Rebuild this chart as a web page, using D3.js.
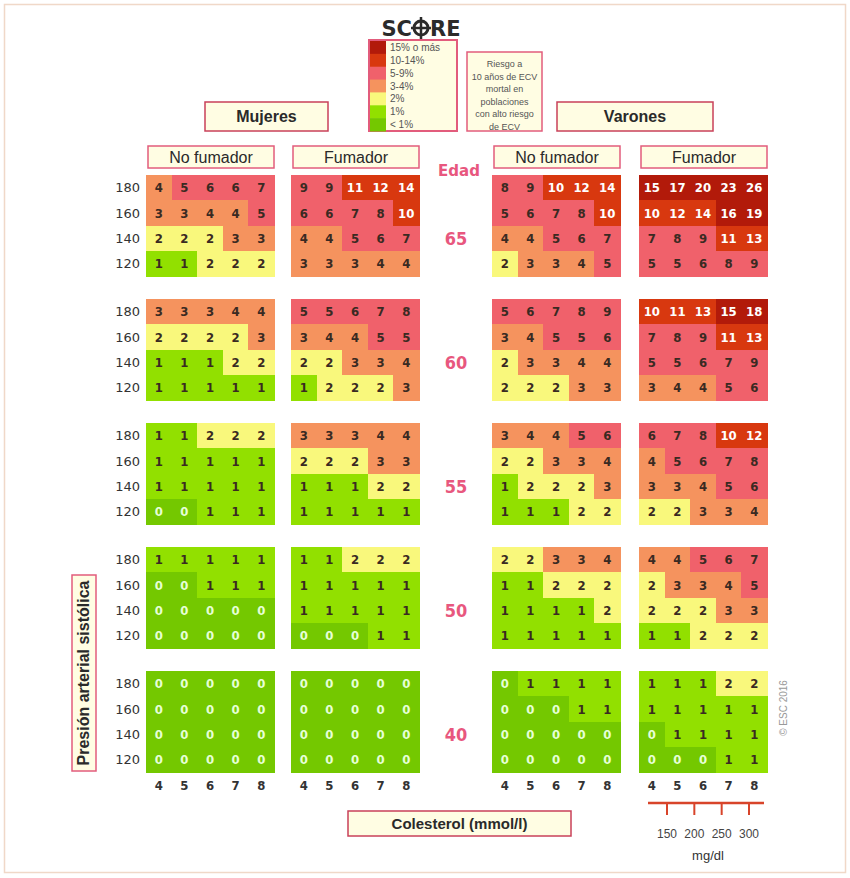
<!DOCTYPE html>
<html>
<head>
<meta charset="utf-8">
<script src="https://cdn.jsdelivr.net/npm/d3@7"></script>
<style>
  body { margin: 0; background: #fff; }
  svg { display: block; }
  .narrow { font-family: "Liberation Sans Narrow", "Liberation Sans", Arial, sans-serif; }
  .num { font-family: "DejaVu Sans Condensed", "DejaVu Sans", sans-serif; font-weight: bold; }
</style>
</head>
<body>
<div id="chart"></div>
<script>
// ---- data ----
const ages = [65, 60, 55, 50, 40];
const sbp = [180, 160, 140, 120];
const cholesterol = [4, 5, 6, 7, 8];
const mgdl = [150, 200, 250, 300];
const groups = ["mujeresNo", "mujeresSi", "varonesNo", "varonesSi"];
const groupLabels = ["No fumador", "Fumador", "No fumador", "Fumador"];
const legendLabels = ["15% o más", "10-14%", "5-9%", "3-4%", "2%", "1%", "< 1%"];
const noteLines = ["Riesgo a", "10 años de ECV", "mortal en", "poblaciones", "con alto riesgo", "de ECV"];

// risk values, rows = SBP 180,160,140,120, cols = cholesterol 4..8
const mujeresNo = {
  65: [[4,5,6,6,7],[3,3,4,4,5],[2,2,2,3,3],[1,1,2,2,2]],
  60: [[3,3,3,4,4],[2,2,2,2,3],[1,1,1,2,2],[1,1,1,1,1]],
  55: [[1,1,2,2,2],[1,1,1,1,1],[1,1,1,1,1],[0,0,1,1,1]],
  50: [[1,1,1,1,1],[0,0,1,1,1],[0,0,0,0,0],[0,0,0,0,0]],
  40: [[0,0,0,0,0],[0,0,0,0,0],[0,0,0,0,0],[0,0,0,0,0]]
};
const mujeresSi = {
  65: [[9,9,11,12,14],[6,6,7,8,10],[4,4,5,6,7],[3,3,3,4,4]],
  60: [[5,5,6,7,8],[3,4,4,5,5],[2,2,3,3,4],[1,2,2,2,3]],
  55: [[3,3,3,4,4],[2,2,2,3,3],[1,1,1,2,2],[1,1,1,1,1]],
  50: [[1,1,2,2,2],[1,1,1,1,1],[1,1,1,1,1],[0,0,0,1,1]],
  40: [[0,0,0,0,0],[0,0,0,0,0],[0,0,0,0,0],[0,0,0,0,0]]
};
const varonesNo = {
  65: [[8,9,10,12,14],[5,6,7,8,10],[4,4,5,6,7],[2,3,3,4,5]],
  60: [[5,6,7,8,9],[3,4,5,5,6],[2,3,3,4,4],[2,2,2,3,3]],
  55: [[3,4,4,5,6],[2,2,3,3,4],[1,2,2,2,3],[1,1,1,2,2]],
  50: [[2,2,3,3,4],[1,1,2,2,2],[1,1,1,1,2],[1,1,1,1,1]],
  40: [[0,1,1,1,1],[0,0,0,1,1],[0,0,0,0,0],[0,0,0,0,0]]
};
const varonesSi = {
  65: [[15,17,20,23,26],[10,12,14,16,19],[7,8,9,11,13],[5,5,6,8,9]],
  60: [[10,11,13,15,18],[7,8,9,11,13],[5,5,6,7,9],[3,4,4,5,6]],
  55: [[6,7,8,10,12],[4,5,6,7,8],[3,3,4,5,6],[2,2,3,3,4]],
  50: [[4,4,5,6,7],[2,3,3,4,5],[2,2,2,3,3],[1,1,2,2,2]],
  40: [[1,1,1,2,2],[1,1,1,1,1],[0,1,1,1,1],[0,0,0,1,1]]
};
const tables = {mujeresNo, mujeresSi, varonesNo, varonesSi};

// ---- layout ----
const W = 850, H = 878;
const gridW = 128;
const groupX = {mujeresNo: 146, mujeresSi: 291, varonesNo: 492, varonesSi: 639};
const pink = "#e8577e";
const boxFill = "#fffde3";
const boxStroke = "#e25c7c";

const color = d3.scaleThreshold()
  .domain([1, 2, 3, 5, 10, 15])
  .range(["#74c800", "#92e000", "#f9f87c", "#f5935e", "#f0616b", "#d8380f", "#b21a0a"]);

const svg = d3.select("#chart").append("svg")
  .attr("width", W).attr("height", H);

// outer frame
svg.append("rect")
  .attr("x", 4.5).attr("y", 4.5).attr("width", W - 9).attr("height", H - 10)
  .attr("fill", "none").attr("stroke", "#f0d8c8").attr("stroke-width", 1.5);

// scales
const yAge = d3.scaleBand().domain(ages).range([175, 772.5]).paddingInner(0.1815);
const yRow = d3.scaleBand().domain(sbp).range([0, yAge.bandwidth()]);
const xCol = d3.scaleBand().domain(cholesterol).range([0, gridW]);

// ---- grids ----
groups.forEach(g => {
  ages.forEach(age => {
    const block = svg.append("g")
      .attr("transform", `translate(${groupX[g]}, ${yAge(age)})`);
    const cells = [];
    tables[g][age].forEach((row, i) => row.forEach((v, j) => cells.push({s: sbp[i], c: cholesterol[j], v})));

    block.selectAll("rect").data(cells).enter().append("rect")
      .attr("x", d => xCol(d.c))
      .attr("y", d => yRow(d.s))
      .attr("width", xCol.bandwidth() + 0.6)
      .attr("height", yRow.bandwidth() + 0.6)
      .attr("fill", d => color(d.v))
      .attr("shape-rendering", "crispEdges");

    block.selectAll("text").data(cells).enter().append("text")
      .attr("class", "num")
      .attr("x", d => xCol(d.c) + xCol.bandwidth() / 2)
      .attr("y", d => yRow(d.s) + yRow.bandwidth() / 2)
      .attr("dy", "0.36em")
      .attr("text-anchor", "middle")
      .attr("font-size", 13)
      .attr("fill", d => d.v === 0 ? "#e6ffd6" : (d.v >= 10 ? "#ffffff" : "#3a2a22"))
      .text(d => d.v);
  });
});

// SBP labels at the left
ages.forEach(age => {
  svg.append("g").selectAll("text").data(sbp).enter().append("text")
    .attr("x", 140)
    .attr("y", d => yAge(age) + yRow(d) + yRow.bandwidth() / 2)
    .attr("dy", "0.36em")
    .attr("text-anchor", "end")
    .attr("font-family", "DejaVu Sans, sans-serif")
    .attr("font-size", 13)
    .attr("fill", "#333")
    .text(d => d);
});

// age labels, level with the 140 row
svg.append("text")
  .attr("x", 459).attr("y", 176)
  .attr("text-anchor", "middle")
  .attr("font-family", "DejaVu Sans, sans-serif").attr("font-weight", "bold")
  .attr("font-size", 15).attr("fill", pink)
  .text("Edad");
svg.append("g").selectAll("text").data(ages).enter().append("text")
  .attr("class", "num")
  .attr("x", 456)
  .attr("y", d => yAge(d) + yRow(140) + yRow.bandwidth() / 2)
  .attr("dy", "0.36em")
  .attr("text-anchor", "middle")
  .attr("font-size", 18)
  .attr("fill", pink)
  .text(d => d);

// cholesterol ticks
groups.forEach(g => {
  svg.append("g").selectAll("text").data(cholesterol).enter().append("text")
    .attr("class", "num")
    .attr("x", d => groupX[g] + xCol(d) + xCol.bandwidth() / 2)
    .attr("y", 790)
    .attr("text-anchor", "middle")
    .attr("font-size", 13)
    .attr("fill", "#333")
    .text(d => d);
});

// boxed labels
function labelBox(x, y, w, h, txt, opts = {}) {
  svg.append("rect")
    .attr("x", x).attr("y", y).attr("width", w).attr("height", h)
    .attr("fill", boxFill).attr("stroke", opts.stroke || boxStroke).attr("stroke-width", 1.5);
  svg.append("text")
    .attr("class", "narrow")
    .attr("x", x + w / 2).attr("y", y + h / 2)
    .attr("dy", "0.36em")
    .attr("text-anchor", "middle")
    .attr("font-size", opts.size || 16)
    .attr("font-weight", opts.bold ? "bold" : "normal")
    .attr("fill", "#2a2a2a")
    .text(txt);
}

groups.forEach((g, i) => labelBox(groupX[g] + 2, 146, gridW - 2, 22, groupLabels[i]));
labelBox(205, 102, 123, 29, "Mujeres", {bold: true, stroke: "#c9405a"});
labelBox(557, 102, 156, 29, "Varones", {bold: true, stroke: "#c9405a"});
labelBox(348, 811, 223, 25, "Colesterol (mmol/l)", {bold: true, size: 15, stroke: "#c9405a"});

// y title
svg.append("rect")
  .attr("x", 72).attr("y", 575).attr("width", 24).attr("height", 196)
  .attr("fill", boxFill).attr("stroke", boxStroke).attr("stroke-width", 1.5);
svg.append("text")
  .attr("class", "narrow")
  .attr("transform", "translate(89, 673) rotate(-90)")
  .attr("text-anchor", "middle")
  .attr("font-size", 16).attr("font-weight", "bold").attr("fill", "#2a2a2a")
  .text("Presión arterial sistólica");

// ---- SCORE logo ----
const logo = svg.append("g").attr("transform", "translate(414, 36)");
logo.append("text")
  .attr("x", -2).attr("text-anchor", "end")
  .attr("font-family", "DejaVu Sans, sans-serif").attr("font-weight", "bold")
  .attr("font-size", 21).attr("fill", "#2b2b2b").text("SC");
logo.append("circle").attr("cx", 7).attr("cy", -8).attr("r", 7)
  .attr("fill", "none").attr("stroke", "#2b2b2b").attr("stroke-width", 3);
logo.append("line").attr("x1", -3).attr("x2", 17).attr("y1", -8).attr("y2", -8)
  .attr("stroke", "#2b2b2b").attr("stroke-width", 2.5);
logo.append("line").attr("x1", 7).attr("x2", 7).attr("y1", -19).attr("y2", 3)
  .attr("stroke", "#2b2b2b").attr("stroke-width", 2.5);
logo.append("text")
  .attr("x", 16)
  .attr("font-family", "DejaVu Sans, sans-serif").attr("font-weight", "bold")
  .attr("font-size", 21).attr("fill", "#2b2b2b").text("RE");

// ---- legend ----
const legendColors = [15, 10, 5, 3, 2, 1, 0].map(v => color(v));
const yLeg = d3.scaleBand().domain(legendLabels).range([41, 131]);
const legend = svg.append("g");
legend.append("rect")
  .attr("x", 369).attr("y", 40).attr("width", 88).attr("height", 91)
  .attr("fill", boxFill).attr("stroke", boxStroke).attr("stroke-width", 2);
legend.selectAll(".sw").data(legendLabels).enter().append("rect")
  .attr("x", 370).attr("y", d => yLeg(d))
  .attr("width", 16).attr("height", yLeg.bandwidth() + 0.5)
  .attr("fill", (d, i) => legendColors[i]);
legend.selectAll(".lt").data(legendLabels).enter().append("text")
  .attr("class", "narrow")
  .attr("x", 390).attr("y", d => yLeg(d) + yLeg.bandwidth() / 2)
  .attr("dy", "0.36em")
  .attr("font-size", 10).attr("fill", "#555")
  .text(d => d);

// note box
svg.append("rect")
  .attr("x", 467).attr("y", 52).attr("width", 75).attr("height", 79)
  .attr("fill", boxFill).attr("stroke", boxStroke).attr("stroke-width", 1.5);
svg.append("g").selectAll("text").data(noteLines).enter().append("text")
  .attr("class", "narrow")
  .attr("x", 504.5).attr("y", (d, i) => 64 + i * 12.5)
  .attr("dy", "0.36em")
  .attr("text-anchor", "middle")
  .attr("font-size", 9).attr("fill", "#555")
  .text(d => d);

// ---- mg/dl scale ----
const xMg = d3.scaleLinear().domain([150, 300]).range([667, 749]);
svg.append("line")
  .attr("x1", 648).attr("x2", 764).attr("y1", 803).attr("y2", 803)
  .attr("stroke", "#d8442a").attr("stroke-width", 2.5);
svg.append("g").selectAll("line").data(mgdl).enter().append("line")
  .attr("x1", d => xMg(d)).attr("x2", d => xMg(d))
  .attr("y1", 803).attr("y2", 815)
  .attr("stroke", "#d8442a").attr("stroke-width", 2);
svg.append("g").selectAll("text").data(mgdl).enter().append("text")
  .attr("class", "narrow")
  .attr("x", d => xMg(d)).attr("y", 838)
  .attr("text-anchor", "middle")
  .attr("font-size", 13).attr("fill", "#444")
  .attr("textLength", 20).attr("lengthAdjust", "spacingAndGlyphs")
  .text(d => d);
svg.append("text")
  .attr("class", "narrow")
  .attr("x", 708).attr("y", 860)
  .attr("text-anchor", "middle")
  .attr("font-size", 13).attr("fill", "#333")
  .text("mg/dl");

// copyright
svg.append("text")
  .attr("transform", "translate(787, 708) rotate(-90)")
  .attr("text-anchor", "middle")
  .attr("font-family", "Liberation Sans, Arial, sans-serif")
  .attr("font-size", 10).attr("fill", "#999")
  .text("© ESC 2016");
</script>
</body>
</html>
